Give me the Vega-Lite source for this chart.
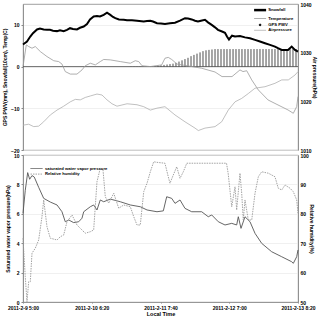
{
  "$schema": "https://vega.github.io/schema/vega-lite/v6.json",
  "padding": {"left": 2, "top": 1, "right": 0, "bottom": 0},
  "background": "white",
  "config": {
    "font": "Liberation Sans",
    "view": {"stroke": "#888", "strokeWidth": 0.8},
    "axis": {"labelFontSize": 5, "titleFontSize": 5, "labelColor": "#000", "titleColor": "#000", "domainColor": "#888", "tickColor": "#888", "tickSize": 2, "labelPadding": 2, "titlePadding": 3, "gridColor": "#e6e6e6", "gridWidth": 0.6, "domainWidth": 0.8, "titleFontWeight": "bold", "labelFontWeight": "bold"},
    "legend": {"labelColor": "#000", "labelFontWeight": "bold", "padding": 0, "symbolStrokeWidth": 1}
  },
  "datasets": {
    "one": [{"z": 0}],
    "thick": [
      {"u":0.000,"v":5.3},{"u":0.058,"v":6.0},{"u":0.106,"v":7.2},{"u":0.145,"v":8.0},{"u":0.204,"v":8.9},{"u":0.247,"v":9.1},{"u":0.301,"v":8.9},{"u":0.349,"v":8.8},{"u":0.393,"v":8.8},{"u":0.436,"v":8.6},{"u":0.495,"v":8.5},{"u":0.538,"v":8.7},{"u":0.592,"v":8.5},{"u":0.640,"v":8.8},{"u":0.684,"v":9.2},{"u":0.727,"v":9.0},{"u":0.785,"v":8.9},{"u":0.829,"v":9.3},{"u":0.883,"v":9.6},{"u":0.931,"v":10.2},{"u":0.975,"v":11.3},{"u":1.028,"v":12.0},{"u":1.076,"v":12.1},{"u":1.120,"v":12.0},{"u":1.174,"v":12.4},{"u":1.222,"v":12.9},{"u":1.270,"v":12.4},{"u":1.309,"v":11.9},{"u":1.343,"v":11.6},{"u":1.396,"v":11.3},{"u":1.465,"v":11.2},{"u":1.513,"v":11.1},{"u":1.585,"v":11.1},{"u":1.658,"v":11.0},{"u":1.756,"v":10.8},{"u":1.804,"v":10.9},{"u":1.852,"v":11.0},{"u":1.891,"v":10.8},{"u":1.949,"v":10.4},{"u":2.007,"v":10.3},{"u":2.065,"v":10.2},{"u":2.138,"v":10.4},{"u":2.211,"v":10.5},{"u":2.284,"v":11.0},{"u":2.356,"v":11.6},{"u":2.400,"v":11.5},{"u":2.454,"v":11.3},{"u":2.502,"v":11.0},{"u":2.545,"v":10.8},{"u":2.589,"v":11.0},{"u":2.647,"v":11.2},{"u":2.691,"v":10.6},{"u":2.745,"v":10.0},{"u":2.793,"v":9.4},{"u":2.836,"v":8.8},{"u":2.895,"v":8.4},{"u":2.938,"v":8.1},{"u":2.967,"v":7.2},{"u":2.996,"v":6.5},{"u":3.040,"v":7.4},{"u":3.084,"v":7.2},{"u":3.156,"v":7.3},{"u":3.229,"v":7.0},{"u":3.302,"v":6.8},{"u":3.375,"v":6.4},{"u":3.447,"v":6.0},{"u":3.520,"v":5.6},{"u":3.593,"v":5.2},{"u":3.665,"v":4.8},{"u":3.709,"v":4.4},{"u":3.763,"v":4.0},{"u":3.811,"v":4.0},{"u":3.855,"v":4.0},{"u":3.908,"v":4.8},{"u":3.956,"v":4.0},{"u":4.000,"v":3.6}
    ],
    "temp": [
      {"u":0.000,"v":0.0},{"u":0.048,"v":5.2},{"u":0.083,"v":4.8},{"u":0.131,"v":4.4},{"u":0.179,"v":4.8},{"u":0.252,"v":3.6},{"u":0.349,"v":2.4},{"u":0.447,"v":1.4},{"u":0.519,"v":1.2},{"u":0.567,"v":0.6},{"u":0.615,"v":-1.2},{"u":0.688,"v":-1.8},{"u":0.785,"v":-1.8},{"u":0.858,"v":-0.8},{"u":0.906,"v":0.2},{"u":0.979,"v":0.8},{"u":1.052,"v":0.4},{"u":1.124,"v":1.2},{"u":1.174,"v":1.7},{"u":1.270,"v":1.6},{"u":1.415,"v":1.2},{"u":1.561,"v":0.8},{"u":1.633,"v":1.4},{"u":1.683,"v":1.2},{"u":1.731,"v":0.2},{"u":1.852,"v":0.0},{"u":2.017,"v":0.4},{"u":2.065,"v":2.0},{"u":2.113,"v":2.2},{"u":2.163,"v":1.7},{"u":2.240,"v":0.6},{"u":2.385,"v":0.2},{"u":2.599,"v":-0.4},{"u":2.793,"v":-1.3},{"u":2.895,"v":-2.4},{"u":3.040,"v":-2.4},{"u":3.156,"v":-0.8},{"u":3.200,"v":-1.2},{"u":3.254,"v":-1.0},{"u":3.327,"v":-3.2},{"u":3.423,"v":-5.6},{"u":3.564,"v":-8.0},{"u":3.709,"v":-9.2},{"u":3.855,"v":-10.4},{"u":3.932,"v":-11.2},{"u":3.981,"v":-9.6},{"u":4.000,"v":-7.2}
    ],
    "pres": [
      {"u":0.000,"p":1015.1},{"u":0.083,"p":1015.3},{"u":0.156,"p":1014.8},{"u":0.228,"p":1014.9},{"u":0.301,"p":1015.8},{"u":0.397,"p":1017.2},{"u":0.495,"p":1018.2},{"u":0.592,"p":1019.0},{"u":0.688,"p":1019.9},{"u":0.761,"p":1020.4},{"u":0.833,"p":1020.3},{"u":0.906,"p":1020.8},{"u":0.979,"p":1021.1},{"u":1.076,"p":1021.5},{"u":1.149,"p":1021.3},{"u":1.222,"p":1020.3},{"u":1.295,"p":1019.5},{"u":1.367,"p":1019.0},{"u":1.513,"p":1019.5},{"u":1.658,"p":1019.3},{"u":1.756,"p":1018.9},{"u":1.852,"p":1018.2},{"u":1.949,"p":1018.6},{"u":2.065,"p":1018.9},{"u":2.211,"p":1017.2},{"u":2.356,"p":1015.8},{"u":2.502,"p":1014.5},{"u":2.550,"p":1014.0},{"u":2.647,"p":1014.5},{"u":2.793,"p":1014.8},{"u":2.890,"p":1015.8},{"u":2.986,"p":1018.2},{"u":3.084,"p":1019.9},{"u":3.181,"p":1020.6},{"u":3.277,"p":1021.6},{"u":3.375,"p":1022.7},{"u":3.520,"p":1023.0},{"u":3.665,"p":1023.7},{"u":3.763,"p":1024.4},{"u":3.859,"p":1024.4},{"u":3.956,"p":1025.4},{"u":4.000,"p":1026.1}
    ],
    "bars": [
      {"u":1.571,"v":0.05},{"u":1.615,"v":0.05},{"u":1.658,"v":0.05},{"u":1.702,"v":0.05},{"u":1.745,"v":0.05},{"u":1.789,"v":0.05},{"u":1.833,"v":0.05},{"u":1.876,"v":0.1},{"u":1.920,"v":0.15},{"u":1.964,"v":0.2},{"u":2.007,"v":0.3},{"u":2.051,"v":0.4},{"u":2.095,"v":0.5},{"u":2.138,"v":0.6},{"u":2.182,"v":0.7},{"u":2.225,"v":0.9},{"u":2.269,"v":1.2},{"u":2.313,"v":1.5},{"u":2.356,"v":1.8},{"u":2.400,"v":2.1},{"u":2.444,"v":2.5},{"u":2.487,"v":2.8},{"u":2.531,"v":3.1},{"u":2.575,"v":3.4},{"u":2.618,"v":3.7},{"u":2.662,"v":3.9},{"u":2.705,"v":4.0},{"u":2.749,"v":4.1},{"u":2.793,"v":4.2},{"u":2.836,"v":4.2},{"u":2.880,"v":4.2},{"u":2.924,"v":4.2},{"u":2.967,"v":4.2},{"u":3.011,"v":4.2},{"u":3.055,"v":4.2},{"u":3.098,"v":4.2},{"u":3.142,"v":4.2},{"u":3.185,"v":4.2},{"u":3.229,"v":4.2},{"u":3.273,"v":4.2},{"u":3.316,"v":4.2},{"u":3.360,"v":4.2},{"u":3.404,"v":4.2},{"u":3.447,"v":4.2},{"u":3.491,"v":4.2},{"u":3.535,"v":4.2},{"u":3.578,"v":4.2},{"u":3.622,"v":4.2},{"u":3.665,"v":4.2},{"u":3.709,"v":4.2},{"u":3.753,"v":4.2},{"u":3.796,"v":4.2},{"u":3.840,"v":4.2},{"u":3.884,"v":4.2},{"u":3.927,"v":4.2},{"u":3.971,"v":4.2}
    ],
    "svp": [
      {"u":0.000,"v":6.03},{"u":0.033,"v":7.6},{"u":0.068,"v":8.8},{"u":0.097,"v":8.35},{"u":0.131,"v":8.6},{"u":0.164,"v":8.5},{"u":0.228,"v":7.8},{"u":0.301,"v":7.05},{"u":0.397,"v":6.8},{"u":0.495,"v":6.6},{"u":0.567,"v":6.14},{"u":0.615,"v":5.46},{"u":0.665,"v":5.58},{"u":0.737,"v":5.4},{"u":0.810,"v":5.46},{"u":0.858,"v":5.7},{"u":0.883,"v":6.14},{"u":0.979,"v":6.48},{"u":1.028,"v":6.6},{"u":1.076,"v":6.26},{"u":1.124,"v":6.94},{"u":1.174,"v":6.82},{"u":1.270,"v":7.0},{"u":1.415,"v":6.82},{"u":1.561,"v":6.6},{"u":1.706,"v":6.48},{"u":1.804,"v":6.26},{"u":1.949,"v":6.14},{"u":2.041,"v":6.2},{"u":2.090,"v":7.16},{"u":2.163,"v":7.05},{"u":2.211,"v":6.71},{"u":2.284,"v":6.94},{"u":2.356,"v":6.37},{"u":2.454,"v":6.14},{"u":2.599,"v":6.14},{"u":2.695,"v":5.8},{"u":2.745,"v":5.92},{"u":2.841,"v":5.46},{"u":2.938,"v":5.24},{"u":3.036,"v":5.35},{"u":3.108,"v":5.24},{"u":3.132,"v":5.8},{"u":3.171,"v":5.01},{"u":3.229,"v":5.8},{"u":3.302,"v":5.46},{"u":3.375,"v":4.67},{"u":3.472,"v":3.99},{"u":3.617,"v":3.42},{"u":3.763,"v":3.08},{"u":3.908,"v":2.74},{"u":3.932,"v":2.63},{"u":3.981,"v":3.08},{"u":4.000,"v":3.54}
    ],
    "rh": [
      {"u":0.000,"h":71.7},{"u":0.033,"h":58.6},{"u":0.058,"h":50.1},{"u":0.083,"h":56.9},{"u":0.106,"h":56.9},{"u":0.131,"h":66.6},{"u":0.179,"h":68.3},{"u":0.228,"h":71.1},{"u":0.276,"h":79.0},{"u":0.301,"h":84.7},{"u":0.349,"h":75.6},{"u":0.397,"h":71.7},{"u":0.495,"h":71.1},{"u":0.543,"h":72.2},{"u":0.592,"h":72.8},{"u":0.640,"h":77.3},{"u":0.713,"h":79.6},{"u":0.785,"h":76.2},{"u":0.858,"h":74.5},{"u":0.906,"h":73.4},{"u":0.979,"h":73.9},{"u":1.028,"h":74.5},{"u":1.076,"h":90.9},{"u":1.124,"h":95.5},{"u":1.164,"h":94.9},{"u":1.197,"h":85.8},{"u":1.247,"h":83.6},{"u":1.320,"h":87.0},{"u":1.392,"h":81.9},{"u":1.465,"h":83.0},{"u":1.561,"h":82.4},{"u":1.611,"h":79.0},{"u":1.658,"h":76.2},{"u":1.706,"h":76.2},{"u":1.756,"h":87.5},{"u":1.804,"h":90.4},{"u":1.852,"h":94.3},{"u":1.901,"h":97.7},{"u":1.949,"h":97.5},{"u":2.065,"h":97.2},{"u":2.113,"h":92.6},{"u":2.138,"h":90.4},{"u":2.186,"h":93.2},{"u":2.236,"h":96.0},{"u":2.284,"h":92.1},{"u":2.332,"h":94.3},{"u":2.382,"h":97.2},{"u":2.960,"h":97.2},{"u":2.984,"h":93.8},{"u":3.036,"h":82.4},{"u":3.084,"h":89.2},{"u":3.108,"h":81.3},{"u":3.156,"h":93.8},{"u":3.181,"h":87.0},{"u":3.204,"h":77.9},{"u":3.229,"h":84.7},{"u":3.277,"h":77.9},{"u":3.327,"h":77.9},{"u":3.375,"h":87.0},{"u":3.423,"h":92.6},{"u":3.472,"h":94.3},{"u":3.569,"h":93.8},{"u":3.665,"h":92.6},{"u":3.713,"h":88.7},{"u":3.763,"h":88.1},{"u":3.811,"h":89.8},{"u":3.884,"h":88.7},{"u":3.932,"h":87.5},{"u":3.981,"h":84.7},{"u":4.000,"h":80.2}
    ]
  },
  "spacing": 5,
  "bounds": "flush",
  "resolve": {"scale": {"color": "independent"}},
  "vconcat": [
    {
      "width": 275,
      "height": 146,
      "layer": [
        {
          "layer": [
            {
              "data": {"name": "bars"},
              "mark": {"type": "rule", "strokeWidth": 0.7},
              "encoding": {
                "x": {"field": "u", "type": "quantitative", "scale": {"domain": [0, 4], "nice": false}, "axis": null},
                "y": {"field": "v", "type": "quantitative", "scale": {"domain": [-20, 15], "nice": false},
                      "axis": {"title": "GPS PWV(mm), Snowfall(10cm), Temp(C)", "values": [-20, -15, -10, -5, 0, 5, 10, 15], "grid": true}},
                "y2": {"datum": 0},
                "color": {"datum": "GPS PWV", "type": "nominal",
                  "scale": {"domain": ["Snowfall", "Temperature", "GPS PWV", "Airpressure"], "range": ["#000000", "#9a9a9a", "#000000", "#b0b0b0"]},
                  "legend": {"title": null, "orient": "top-right", "offset": 4, "labelFontSize": 4.2, "rowPadding": 0.4, "symbolSize": 16, "symbolType": "M-3,0H3", "labelOffset": 6,
                    "encode": {"symbols": {"update": {
                      "strokeWidth": {"signal": "datum.value === 'Snowfall' ? 2.5 : 0.8"},
                      "shape": {"signal": "datum.value === 'GPS PWV' ? 'circle' : 'M-3,0H3'"},
                      "size": {"signal": "datum.value === 'GPS PWV' ? 3 : 16"},
                      "fill": {"signal": "datum.value === 'GPS PWV' ? '#000' : 'transparent'"}
                    }}}}
                }
              }
            },
            {
              "data": {"name": "one"},
              "mark": {"type": "rule", "color": "#333", "strokeWidth": 0.7},
              "encoding": {"y": {"field": "z", "type": "quantitative"}}
            },
            {
              "data": {"name": "temp"},
              "mark": {"type": "line", "strokeWidth": 0.8},
              "encoding": {
                "x": {"field": "u", "type": "quantitative"},
                "y": {"field": "v", "type": "quantitative"},
                "color": {"datum": "Temperature", "type": "nominal"}
              }
            },
            {
              "data": {"name": "thick"},
              "mark": {"type": "line", "strokeWidth": 2},
              "encoding": {
                "x": {"field": "u", "type": "quantitative"},
                "y": {"field": "v", "type": "quantitative"},
                "color": {"datum": "Snowfall", "type": "nominal"}
              }
            }
          ]
        },
        {
          "data": {"name": "pres"},
          "mark": {"type": "line", "strokeWidth": 0.8},
          "encoding": {
            "x": {"field": "u", "type": "quantitative"},
            "y": {"field": "p", "type": "quantitative", "scale": {"domain": [1010, 1040], "nice": false},
                  "axis": {"orient": "right", "title": "Air pressure(hPa)", "values": [1010, 1020, 1030, 1040], "format": "d", "grid": false, "ticks": false, "labelPadding": 2, "titlePadding": 0.5}},
            "color": {"datum": "Airpressure", "type": "nominal"}
          }
        }
      ],
      "resolve": {"scale": {"y": "independent"}}
    },
    {
      "width": 275,
      "height": 147,
      "layer": [
        {
          "data": {"name": "svp"},
          "mark": {"type": "line", "strokeWidth": 0.9},
          "encoding": {
            "x": {"field": "u", "type": "quantitative", "scale": {"domain": [0, 4], "nice": false},
                  "axis": {"title": "Local Time", "values": [0, 1, 2, 3, 4], "labelFlush": false, "labelOverlap": false, "grid": false, "titleFontSize": 5.5, "titlePadding": 1, "tickSize": 1, "labelPadding": 2,
                           "labelExpr": "['2011-2-9 5:00','2011-2-10 6:20','2011-2-11 7:40','2011-2-12 7:00','2011-2-13 8:20'][datum.value]"}},
            "y": {"field": "v", "type": "quantitative", "scale": {"domain": [0, 10], "nice": false},
                  "axis": {"title": "Saturated water vapor pressure(hPa)", "values": [0, 2, 4, 6, 8, 10], "grid": true}},
            "color": {"datum": "saturated water vapor pressure", "type": "nominal",
              "scale": {"domain": ["saturated water vapor pressure", "Relative humidity"], "range": ["#555555", "#999999"]},
              "legend": {"title": null, "orient": "top-left", "offset": 11, "labelFontSize": 4.2, "rowPadding": 0.6, "symbolSize": 16, "symbolType": "M-3,0H3", "labelOffset": 6,
                "encode": {"symbols": {"update": {
                  "strokeWidth": {"value": 0.9},
                  "strokeDash": {"signal": "datum.value === 'Relative humidity' ? [1.5, 1] : [1, 0]"}
                }}}}
            }
          }
        },
        {
          "data": {"name": "rh"},
          "mark": {"type": "line", "strokeWidth": 0.9, "strokeDash": [1.5, 1]},
          "encoding": {
            "x": {"field": "u", "type": "quantitative"},
            "y": {"field": "h", "type": "quantitative", "scale": {"domain": [50, 100], "nice": false},
                  "axis": {"orient": "right", "title": "Relative humidity(%)", "values": [50, 60, 70, 80, 90, 100], "grid": false, "ticks": false, "labelPadding": 2, "titlePadding": 0.5}},
            "color": {"datum": "Relative humidity", "type": "nominal"}
          }
        }
      ],
      "resolve": {"scale": {"y": "independent"}}
    }
  ]
}
